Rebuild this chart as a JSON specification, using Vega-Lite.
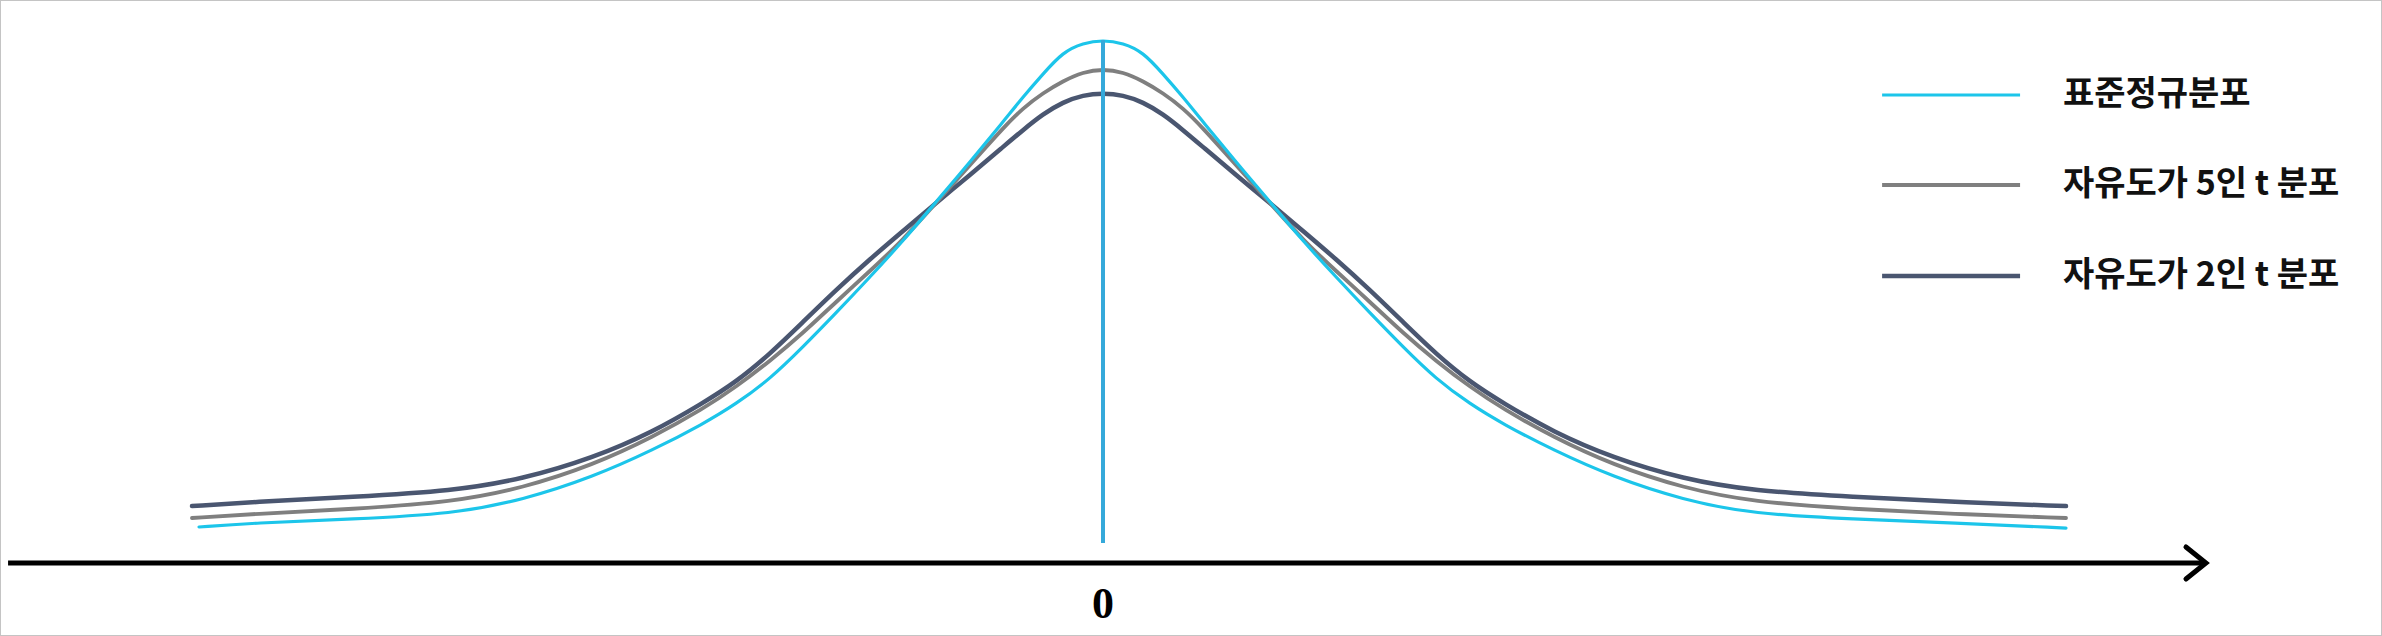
{
  "$schema": "https://vega.github.io/schema/vega-lite/v6.json",
  "width": 2382,
  "height": 636,
  "autosize": {"type": "fit", "contains": "padding"},
  "padding": 0,
  "background": "white",
  "config": {"view": {"stroke": "#c4c4c4", "strokeWidth": 2}},
  "datasets": {
    "curves": [
      {"s": "자유도가 2인 t 분포", "x": -4.3381, "y": 0.0438},
      {"s": "자유도가 2인 t 분포", "x": -4.0476, "y": 0.0469},
      {"s": "자유도가 2인 t 분포", "x": -3.5714, "y": 0.0508},
      {"s": "자유도가 2인 t 분포", "x": -3.0952, "y": 0.0554},
      {"s": "자유도가 2인 t 분포", "x": -2.7619, "y": 0.0646},
      {"s": "자유도가 2인 t 분포", "x": -2.4286, "y": 0.0808},
      {"s": "자유도가 2인 t 분포", "x": -2.1429, "y": 0.1008},
      {"s": "자유도가 2인 t 분포", "x": -1.9048, "y": 0.1231},
      {"s": "자유도가 2인 t 분포", "x": -1.7476, "y": 0.1392},
      {"s": "자유도가 2인 t 분포", "x": -1.5857, "y": 0.1608},
      {"s": "자유도가 2인 t 분포", "x": -1.4286, "y": 0.1854},
      {"s": "자유도가 2인 t 분포", "x": -1.2714, "y": 0.2100},
      {"s": "자유도가 2인 t 분포", "x": -1.1095, "y": 0.2338},
      {"s": "자유도가 2인 t 분포", "x": -0.9524, "y": 0.2554},
      {"s": "자유도가 2인 t 분포", "x": -0.7952, "y": 0.2769},
      {"s": "자유도가 2인 t 분포", "x": -0.6333, "y": 0.2985},
      {"s": "자유도가 2인 t 분포", "x": -0.4762, "y": 0.3200},
      {"s": "자유도가 2인 t 분포", "x": -0.3810, "y": 0.3331},
      {"s": "자유도가 2인 t 분포", "x": -0.2857, "y": 0.3454},
      {"s": "자유도가 2인 t 분포", "x": -0.1905, "y": 0.3546},
      {"s": "자유도가 2인 t 분포", "x": -0.0952, "y": 0.3600},
      {"s": "자유도가 2인 t 분포", "x": 0, "y": 0.3615},
      {"s": "자유도가 2인 t 분포", "x": 0.0952, "y": 0.3600},
      {"s": "자유도가 2인 t 분포", "x": 0.1905, "y": 0.3546},
      {"s": "자유도가 2인 t 분포", "x": 0.2857, "y": 0.3454},
      {"s": "자유도가 2인 t 분포", "x": 0.3810, "y": 0.3331},
      {"s": "자유도가 2인 t 분포", "x": 0.4762, "y": 0.3200},
      {"s": "자유도가 2인 t 분포", "x": 0.6333, "y": 0.2985},
      {"s": "자유도가 2인 t 분포", "x": 0.7952, "y": 0.2769},
      {"s": "자유도가 2인 t 분포", "x": 0.9524, "y": 0.2554},
      {"s": "자유도가 2인 t 분포", "x": 1.1095, "y": 0.2338},
      {"s": "자유도가 2인 t 분포", "x": 1.2714, "y": 0.2100},
      {"s": "자유도가 2인 t 분포", "x": 1.4286, "y": 0.1854},
      {"s": "자유도가 2인 t 분포", "x": 1.5857, "y": 0.1608},
      {"s": "자유도가 2인 t 분포", "x": 1.7476, "y": 0.1392},
      {"s": "자유도가 2인 t 분포", "x": 1.9048, "y": 0.1231},
      {"s": "자유도가 2인 t 분포", "x": 2.1429, "y": 0.1008},
      {"s": "자유도가 2인 t 분포", "x": 2.4286, "y": 0.0808},
      {"s": "자유도가 2인 t 분포", "x": 2.7619, "y": 0.0646},
      {"s": "자유도가 2인 t 분포", "x": 3.0952, "y": 0.0554},
      {"s": "자유도가 2인 t 분포", "x": 3.5714, "y": 0.0508},
      {"s": "자유도가 2인 t 분포", "x": 4.0476, "y": 0.0469},
      {"s": "자유도가 2인 t 분포", "x": 4.5857, "y": 0.0438},

      {"s": "자유도가 5인 t 분포", "x": -4.3381, "y": 0.0346},
      {"s": "자유도가 5인 t 분포", "x": -4.0476, "y": 0.0377},
      {"s": "자유도가 5인 t 분포", "x": -3.5714, "y": 0.0415},
      {"s": "자유도가 5인 t 분포", "x": -3.0952, "y": 0.0469},
      {"s": "자유도가 5인 t 분포", "x": -2.7619, "y": 0.0577},
      {"s": "자유도가 5인 t 분포", "x": -2.4286, "y": 0.0754},
      {"s": "자유도가 5인 t 분포", "x": -2.1429, "y": 0.0969},
      {"s": "자유도가 5인 t 분포", "x": -1.9048, "y": 0.1185},
      {"s": "자유도가 5인 t 분포", "x": -1.7476, "y": 0.1354},
      {"s": "자유도가 5인 t 분포", "x": -1.5857, "y": 0.1554},
      {"s": "자유도가 5인 t 분포", "x": -1.4286, "y": 0.1769},
      {"s": "자유도가 5인 t 분포", "x": -1.2714, "y": 0.2008},
      {"s": "자유도가 5인 t 분포", "x": -1.1095, "y": 0.2246},
      {"s": "자유도가 5인 t 분포", "x": -0.9524, "y": 0.2485},
      {"s": "자유도가 5인 t 분포", "x": -0.7952, "y": 0.2769},
      {"s": "자유도가 5인 t 분포", "x": -0.6333, "y": 0.3062},
      {"s": "자유도가 5인 t 분포", "x": -0.4762, "y": 0.3346},
      {"s": "자유도가 5인 t 분포", "x": -0.3810, "y": 0.3500},
      {"s": "자유도가 5인 t 분포", "x": -0.2857, "y": 0.3615},
      {"s": "자유도가 5인 t 분포", "x": -0.1905, "y": 0.3708},
      {"s": "자유도가 5인 t 분포", "x": -0.0952, "y": 0.3777},
      {"s": "자유도가 5인 t 분포", "x": 0, "y": 0.3800},
      {"s": "자유도가 5인 t 분포", "x": 0.0952, "y": 0.3777},
      {"s": "자유도가 5인 t 분포", "x": 0.1905, "y": 0.3708},
      {"s": "자유도가 5인 t 분포", "x": 0.2857, "y": 0.3615},
      {"s": "자유도가 5인 t 분포", "x": 0.3810, "y": 0.3500},
      {"s": "자유도가 5인 t 분포", "x": 0.4762, "y": 0.3346},
      {"s": "자유도가 5인 t 분포", "x": 0.6333, "y": 0.3062},
      {"s": "자유도가 5인 t 분포", "x": 0.7952, "y": 0.2769},
      {"s": "자유도가 5인 t 분포", "x": 0.9524, "y": 0.2485},
      {"s": "자유도가 5인 t 분포", "x": 1.1095, "y": 0.2246},
      {"s": "자유도가 5인 t 분포", "x": 1.2714, "y": 0.2008},
      {"s": "자유도가 5인 t 분포", "x": 1.4286, "y": 0.1769},
      {"s": "자유도가 5인 t 분포", "x": 1.5857, "y": 0.1554},
      {"s": "자유도가 5인 t 분포", "x": 1.7476, "y": 0.1354},
      {"s": "자유도가 5인 t 분포", "x": 1.9048, "y": 0.1185},
      {"s": "자유도가 5인 t 분포", "x": 2.1429, "y": 0.0969},
      {"s": "자유도가 5인 t 분포", "x": 2.4286, "y": 0.0754},
      {"s": "자유도가 5인 t 분포", "x": 2.7619, "y": 0.0577},
      {"s": "자유도가 5인 t 분포", "x": 3.0952, "y": 0.0469},
      {"s": "자유도가 5인 t 분포", "x": 3.5714, "y": 0.0415},
      {"s": "자유도가 5인 t 분포", "x": 4.0476, "y": 0.0377},
      {"s": "자유도가 5인 t 분포", "x": 4.5857, "y": 0.0346},

      {"s": "표준정규분포", "x": -4.3048, "y": 0.0277},
      {"s": "표준정규분포", "x": -4.0476, "y": 0.0308},
      {"s": "표준정규분포", "x": -3.5714, "y": 0.0338},
      {"s": "표준정규분포", "x": -3.0952, "y": 0.0377},
      {"s": "표준정규분포", "x": -2.7619, "y": 0.0485},
      {"s": "표준정규분포", "x": -2.4286, "y": 0.0662},
      {"s": "표준정규분포", "x": -2.1429, "y": 0.0869},
      {"s": "표준정규분포", "x": -1.9048, "y": 0.1069},
      {"s": "표준정규분포", "x": -1.7476, "y": 0.1223},
      {"s": "표준정규분포", "x": -1.5857, "y": 0.1415},
      {"s": "표준정규분포", "x": -1.4286, "y": 0.1662},
      {"s": "표준정규분포", "x": -1.2714, "y": 0.1923},
      {"s": "표준정규분포", "x": -1.1095, "y": 0.2200},
      {"s": "표준정규분포", "x": -0.9524, "y": 0.2477},
      {"s": "표준정규분포", "x": -0.7952, "y": 0.2777},
      {"s": "표준정규분포", "x": -0.6333, "y": 0.3085},
      {"s": "표준정규분포", "x": -0.4762, "y": 0.3392},
      {"s": "표준정규분포", "x": -0.3810, "y": 0.3585},
      {"s": "표준정규분포", "x": -0.2857, "y": 0.3762},
      {"s": "표준정규분포", "x": -0.1905, "y": 0.3931},
      {"s": "표준정규분포", "x": -0.0952, "y": 0.4000},
      {"s": "표준정규분포", "x": 0, "y": 0.4023},
      {"s": "표준정규분포", "x": 0.0952, "y": 0.4000},
      {"s": "표준정규분포", "x": 0.1905, "y": 0.3931},
      {"s": "표준정규분포", "x": 0.2857, "y": 0.3762},
      {"s": "표준정규분포", "x": 0.3810, "y": 0.3585},
      {"s": "표준정규분포", "x": 0.4762, "y": 0.3392},
      {"s": "표준정규분포", "x": 0.6333, "y": 0.3085},
      {"s": "표준정규분포", "x": 0.7952, "y": 0.2777},
      {"s": "표준정규분포", "x": 0.9524, "y": 0.2477},
      {"s": "표준정규분포", "x": 1.1095, "y": 0.2200},
      {"s": "표준정규분포", "x": 1.2714, "y": 0.1923},
      {"s": "표준정규분포", "x": 1.4286, "y": 0.1662},
      {"s": "표준정규분포", "x": 1.5857, "y": 0.1415},
      {"s": "표준정규분포", "x": 1.7476, "y": 0.1223},
      {"s": "표준정규분포", "x": 1.9048, "y": 0.1069},
      {"s": "표준정규분포", "x": 2.1429, "y": 0.0869},
      {"s": "표준정규분포", "x": 2.4286, "y": 0.0662},
      {"s": "표준정규분포", "x": 2.7619, "y": 0.0485},
      {"s": "표준정규분포", "x": 3.0952, "y": 0.0377},
      {"s": "표준정규분포", "x": 3.5714, "y": 0.0338},
      {"s": "표준정규분포", "x": 4.0476, "y": 0.0308},
      {"s": "표준정규분포", "x": 4.5857, "y": 0.0269}
    ],
    "legend": [
      {"s": "표준정규분포", "x0": 3.710, "x1": 4.367, "tx": 4.571, "y": 0.3600},
      {"s": "자유도가 5인 t 분포", "x0": 3.710, "x1": 4.367, "tx": 4.571, "y": 0.2908},
      {"s": "자유도가 2인 t 분포", "x0": 3.710, "x1": 4.367, "tx": 4.571, "y": 0.2208}
    ],
    "axisline": [{"x0": -5.214, "x1": 5.243, "y": 0}],
    "arrow": [
      {"k": 1, "x": 5.157, "y": 0.0123},
      {"k": 2, "x": 5.252, "y": 0},
      {"k": 3, "x": 5.157, "y": -0.0123}
    ],
    "center": [{"x": 0, "y0": 0.0154, "y1": 0.4023, "label": "0", "ly": -0.0323}]
  },
  "layer": [
    {
      "data": {"name": "curves"},
      "mark": {"type": "line", "interpolate": "basis", "strokeCap": "round", "strokeJoin": "round"},
      "encoding": {
        "x": {"field": "x", "type": "quantitative", "axis": null, "scale": {"domain": [-5.25238, 6.09048], "nice": false, "zero": false}},
        "y": {"field": "y", "type": "quantitative", "axis": null, "scale": {"domain": [-0.056154, 0.433077], "nice": false, "zero": false}},
        "color": {"field": "s", "type": "nominal", "legend": null,
          "scale": {"domain": ["표준정규분포", "자유도가 5인 t 분포", "자유도가 2인 t 분포"], "range": ["#1cc5ea", "#7f7f7f", "#4a5670"]}},
        "strokeWidth": {"field": "s", "type": "nominal", "legend": null,
          "scale": {"domain": ["표준정규분포", "자유도가 5인 t 분포", "자유도가 2인 t 분포"], "range": [3.2, 4.5, 3]}},
        "order": {"field": "x", "type": "quantitative"}
      }
    },
    {
      "data": {"name": "center"},
      "mark": {"type": "rule", "color": "#35a9da", "strokeWidth": 4},
      "encoding": {
        "x": {"field": "x", "type": "quantitative"},
        "y": {"field": "y0", "type": "quantitative"},
        "y2": {"field": "y1"}
      }
    },
    {
      "data": {"name": "axisline"},
      "mark": {"type": "rule", "color": "#000000", "strokeWidth": 5},
      "encoding": {
        "x": {"field": "x0", "type": "quantitative"},
        "x2": {"field": "x1"},
        "y": {"field": "y", "type": "quantitative"}
      }
    },
    {
      "data": {"name": "arrow"},
      "mark": {"type": "line", "color": "#000000", "strokeWidth": 5, "strokeCap": "round", "strokeJoin": "miter"},
      "encoding": {
        "x": {"field": "x", "type": "quantitative"},
        "y": {"field": "y", "type": "quantitative"},
        "order": {"field": "k", "type": "quantitative"}
      }
    },
    {
      "data": {"name": "center"},
      "mark": {"type": "text", "font": "Liberation Serif", "fontSize": 44, "fontWeight": "bold", "color": "#000000", "align": "center", "baseline": "middle"},
      "encoding": {
        "x": {"field": "x", "type": "quantitative"},
        "y": {"field": "ly", "type": "quantitative"},
        "text": {"field": "label"}
      }
    },
    {
      "data": {"name": "legend"},
      "mark": {"type": "rule", "strokeCap": "butt"},
      "encoding": {
        "x": {"field": "x0", "type": "quantitative"},
        "x2": {"field": "x1"},
        "y": {"field": "y", "type": "quantitative"},
        "color": {"field": "s", "type": "nominal", "legend": null},
        "strokeWidth": {"field": "s", "type": "nominal", "legend": null}
      }
    },
    {
      "data": {"name": "legend"},
      "mark": {"type": "text", "font": "Noto Sans CJK KR", "fontSize": 34, "fontWeight": 600, "color": "#111111", "align": "left", "baseline": "middle"},
      "encoding": {
        "x": {"field": "tx", "type": "quantitative"},
        "y": {"field": "y", "type": "quantitative"},
        "text": {"field": "s"}
      }
    }
  ]
}
